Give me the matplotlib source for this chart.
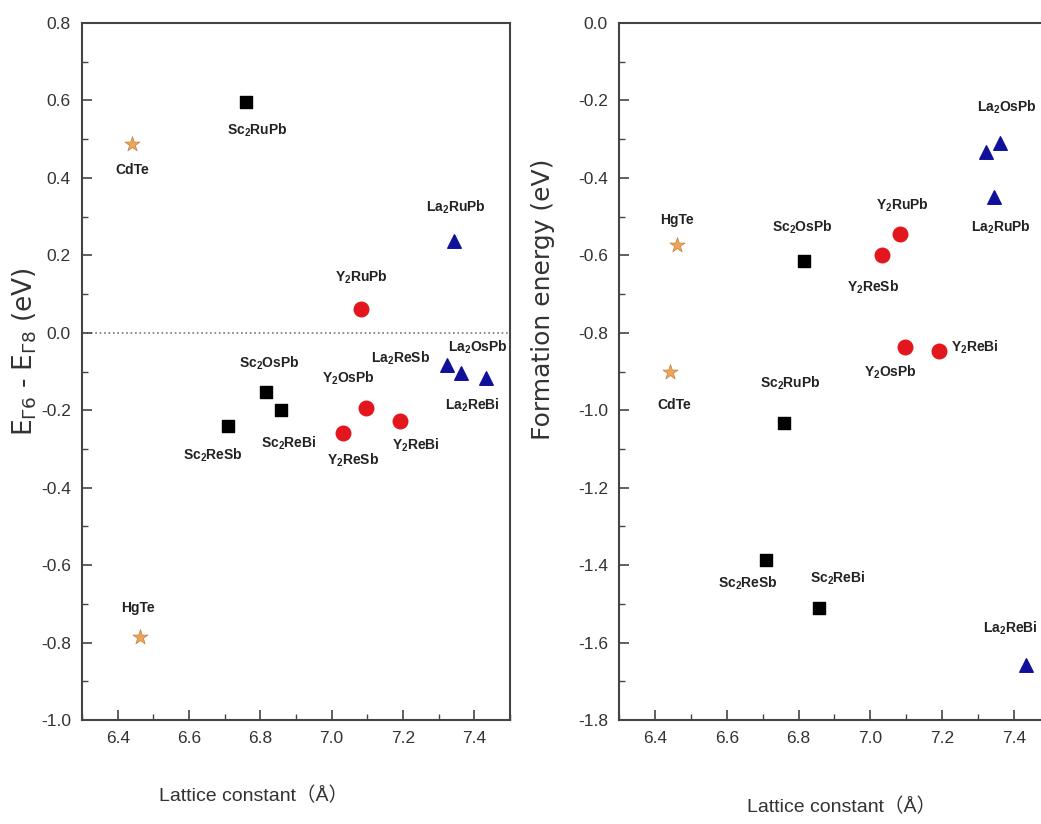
import matplotlib
matplotlib.use('Agg')
import matplotlib.pyplot as plt
from matplotlib.ticker import MultipleLocator

plt.rcParams['font.family'] = ['Liberation Sans', 'Noto Sans CJK SC', 'DejaVu Sans']
plt.rcParams['axes.unicode_minus'] = False
plt.rcParams['mathtext.default'] = 'regular'

# compounds, grouped by family
sc_names = ['Sc$_2$RuPb', 'Sc$_2$OsPb', 'Sc$_2$ReSb', 'Sc$_2$ReBi']
y_names = ['Y$_2$RuPb', 'Y$_2$OsPb', 'Y$_2$ReSb', 'Y$_2$ReBi']
la_names = ['La$_2$RuPb', 'La$_2$OsPb', 'La$_2$ReSb', 'La$_2$ReBi']
ref_names = ['HgTe', 'CdTe']

# lattice constants (A)
sc_a = [6.760, 6.816, 6.708, 6.858]
y_a = [7.082, 7.096, 7.032, 7.192]
la_a = [7.343, 7.362, 7.322, 7.432]
ref_a = [6.462, 6.441]

# E_G6 - E_G8 (eV)
sc_gap = [0.596, -0.153, -0.241, -0.200]
y_gap = [0.061, -0.195, -0.259, -0.228]
la_gap = [0.237, -0.104, -0.083, -0.117]
ref_gap = [-0.786, 0.488]

# formation energy (eV)
sc_form = [-1.033, -0.615, -1.387, -1.511]
y_form = [-0.545, -0.837, -0.599, -0.847]
la_form = [-0.449, -0.310, -0.333, -1.658]
ref_form = [-0.573, -0.901]

# label offsets in pixels (None = no label)
gap_off = {
    'Sc$_2$RuPb': (11, -28), 'Sc$_2$OsPb': (3, 29), 'Sc$_2$ReSb': (-15, -29), 'Sc$_2$ReBi': (8, -33),
    'Y$_2$RuPb': (1, 32), 'Y$_2$OsPb': (-17, 30), 'Y$_2$ReSb': (10, -27), 'Y$_2$ReBi': (16, -24),
    'La$_2$RuPb': (2, 34), 'La$_2$OsPb': (17, 26), 'La$_2$ReSb': (-46, 7), 'La$_2$ReBi': (-13, -27),
    'HgTe': (-2, 29), 'CdTe': (0, -26),
}
form_off = {
    'Sc$_2$RuPb': (6, 40), 'Sc$_2$OsPb': (-2, 34), 'Sc$_2$ReSb': (-18, -23), 'Sc$_2$ReBi': (18, 30),
    'Y$_2$RuPb': (3, 29), 'Y$_2$OsPb': (-14, -25), 'Y$_2$ReSb': (-9, -32), 'Y$_2$ReBi': (36, 4),
    'La$_2$RuPb': (7, -30), 'La$_2$OsPb': (7, 36), 'La$_2$ReSb': None, 'La$_2$ReBi': (-15, 37),
    'HgTe': (0, 25), 'CdTe': (5, -33),
}

groups = [
    (sc_names, sc_a, sc_gap, sc_form, dict(marker='s', color='black', s=75)),
    (y_names, y_a, y_gap, y_form, dict(marker='o', color='#e3161e', s=110)),
    (la_names, la_a, la_gap, la_form, dict(marker='^', color='#10109a', s=95)),
    (ref_names, ref_a, ref_gap, ref_form, dict(marker='*', color='#eda55a', edgecolors='#c08040', linewidths=0.5, s=130)),
]

fig = plt.figure(figsize=(10.41, 8.24), dpi=100)
ax1 = fig.add_axes([0.0788, 0.1262, 0.4111, 0.8459])
ax2 = fig.add_axes([0.5946, 0.1262, 0.4140, 0.8459])

for ax, which, offs in [(ax1, 2, gap_off), (ax2, 3, form_off)]:
    for g in groups:
        names, xs, ys, style = g[0], g[1], g[which], g[4]
        ax.scatter(xs, ys, zorder=3, **style)
        for n, x, y in zip(names, xs, ys):
            if offs[n] is None:
                continue
            ax.annotate(n, (x, y), xytext=offs[n], textcoords='offset pixels',
                        ha='center', va='center', fontsize=10, fontweight='bold',
                        color='#222222', annotation_clip=False)

ax1.axhline(0, color='#777777', linestyle=':', linewidth=1.2, zorder=1)

ax1.set_xlim(6.3, 7.5)
ax1.set_ylim(-1.0, 0.8)
ax2.set_xlim(6.3, 7.5)
ax2.set_ylim(-1.8, 0.0)

for ax in (ax1, ax2):
    ax.xaxis.set_major_locator(MultipleLocator(0.2))
    ax.xaxis.set_minor_locator(MultipleLocator(0.1))
    ax.yaxis.set_major_locator(MultipleLocator(0.2))
    ax.yaxis.set_minor_locator(MultipleLocator(0.1))
    ax.xaxis.set_major_formatter('{x:.1f}')
    ax.yaxis.set_major_formatter('{x:.1f}')
    ax.tick_params(which='both', direction='in', top=False, right=False,
                   color='#444444', labelcolor='#333333', labelsize=12.5)
    ax.tick_params(which='major', length=7, width=1.2, pad=8)
    ax.tick_params(which='minor', length=4, width=1.0)
    for sp in ax.spines.values():
        sp.set_color('#444444')
        sp.set_linewidth(1.5)

ax1.set_xlabel('Lattice constant（Å）', fontsize=14, color='#333333')
ax2.set_xlabel('Lattice constant（Å）', fontsize=14, color='#333333')
ax1.xaxis.set_label_coords(0.40, -0.095)
ax2.xaxis.set_label_coords(0.517, -0.111)
ax1.set_ylabel('E$_{Γ6}$ - E$_{Γ8}$ (eV)', fontsize=19, color='#333333',
               family=['DejaVu Sans'])
ax2.set_ylabel('Formation energy (eV)', fontsize=18, color='#333333',
               family=['DejaVu Sans'])
ax1.yaxis.set_label_coords(-0.1, 0.528)
ax2.yaxis.set_label_coords(-0.148, 0.603)

fig.savefig('out.png', dpi=100)
